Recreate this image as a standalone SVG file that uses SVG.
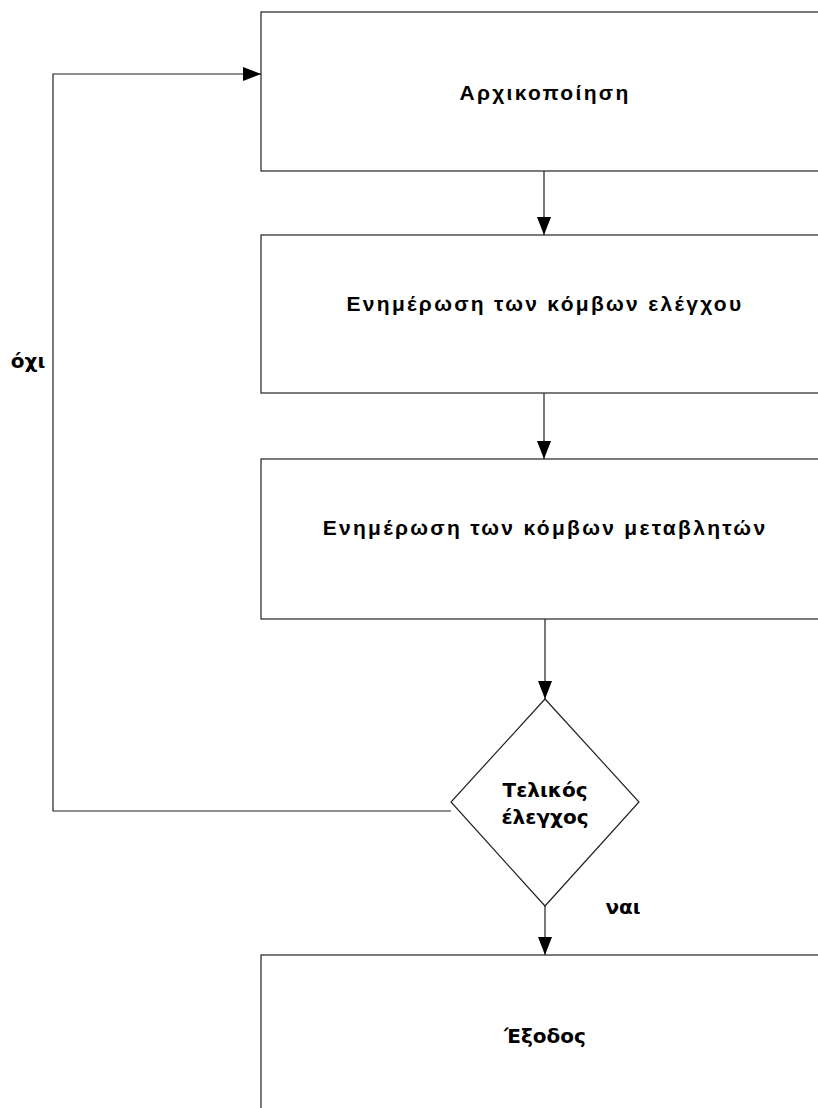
<svg xmlns="http://www.w3.org/2000/svg" width="818" height="1108" viewBox="0 0 818 1108">
<defs>
<marker id="ah" markerWidth="18" markerHeight="14" refX="18" refY="7" orient="auto" markerUnits="userSpaceOnUse" viewBox="0 0 18 14">
<path d="M0,0 L18,7 L0,14 Z" fill="#000"/>
</marker>
</defs>
<style>
.box{fill:#fff;stroke:#222;stroke-width:1.2}
.lbl{font-family:"Liberation Sans",Arial,sans-serif;font-weight:bold;font-size:21px;letter-spacing:2.3px;fill:#000;text-anchor:middle}
.dv{font-family:"DejaVu Sans","Liberation Sans",sans-serif;font-weight:bold;font-size:20px;fill:#000;text-anchor:middle}
.edge{fill:none;stroke:#222;stroke-width:1.2}
</style>
<rect width="818" height="1108" fill="#fff"/>
<g id="n1"><rect class="box" x="261" y="12" width="566" height="159"/><text class="lbl" x="545" y="100">Αρχικοποίηση</text></g>
<g id="n2"><rect class="box" x="261" y="235" width="566" height="158"/><text class="lbl" x="545" y="311">Ενημέρωση των κόμβων ελέγχου</text></g>
<g id="n3"><rect class="box" x="261" y="459" width="566" height="160"/><text class="lbl" x="545" y="535">Ενημέρωση των κόμβων μεταβλητών</text></g>
<g id="n4"><polygon class="box" points="545,699 639,802 545,906 451,802"/><text class="dv" x="545" y="797">Τελικός</text><text class="dv" x="545" y="824">έλεγχος</text></g>
<g id="n5"><rect class="box" x="261" y="955" width="566" height="170"/><text class="dv" x="545" y="1043">Έξοδος</text></g>
<g id="edges">
<line class="edge" x1="544" y1="171" x2="544" y2="235" marker-end="url(#ah)"/>
<line class="edge" x1="544" y1="393" x2="544" y2="459" marker-end="url(#ah)"/>
<line class="edge" x1="545" y1="619" x2="545" y2="699" marker-end="url(#ah)"/>
<line class="edge" x1="545" y1="906" x2="545" y2="955" marker-end="url(#ah)"/>
<polyline class="edge" points="451,811 53,811 53,74 261,74" marker-end="url(#ah)"/>
<text class="dv" x="28" y="368">όχι</text>
<text class="dv" x="623" y="914">ναι</text>
</g>
</svg>
